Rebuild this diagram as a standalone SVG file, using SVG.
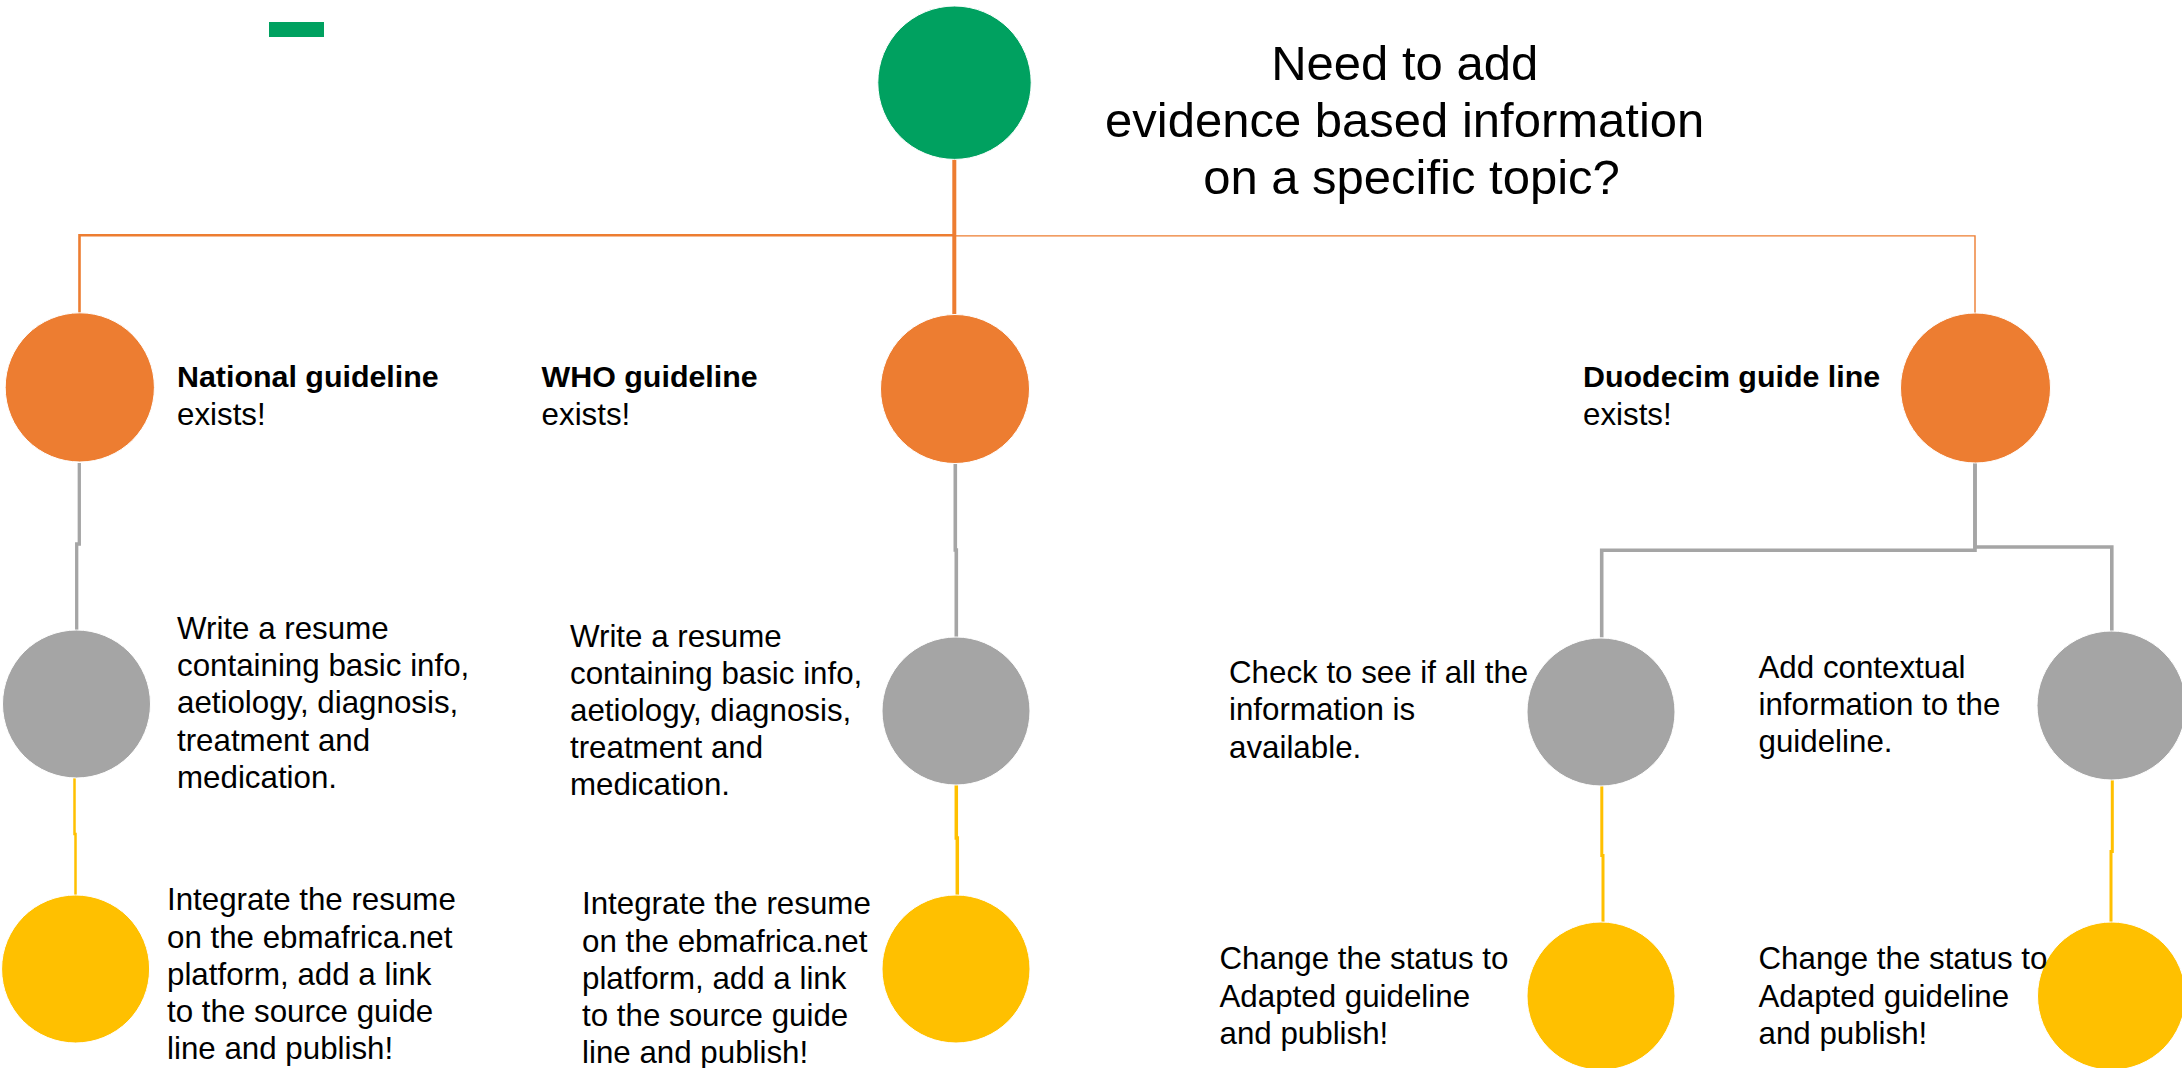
<svg xmlns="http://www.w3.org/2000/svg" width="2182" height="1068" viewBox="0 0 2182 1068">
  <style>
    text { font-family: "Liberation Sans", Arial, sans-serif; fill: #000000; }
    .title { font-size: 49px; text-anchor: middle; }
    .body { font-size: 31.3px; }
    .head { font-size: 30.4px; font-weight: bold; }
    .green { fill: #00A160; }
    .orange { fill: #ED7D31; }
    .gray { fill: #A5A5A5; }
    .yellow { fill: #FFC000; }
    .node { stroke: #FFFFFF; stroke-width: 1; }
    .c-orange { fill: none; stroke: #ED7D31; }
    .c-gray { fill: none; stroke: #A5A5A5; }
    .c-yellow { fill: none; stroke: #FFC000; }
  </style>

  <rect width="2182" height="1068" fill="#FFFFFF"/>

  <!-- small accent bar, top left -->
  <rect id="accent" x="269" y="22" width="55" height="15" class="green"/>

  <!-- connectors -->
  <g id="connectors">
    <!-- orange: root to first level -->
    <path class="c-orange" stroke-width="2.6" d="M79.5 313 V235.3 H954.3"/>
    <path class="c-orange" stroke-width="4" d="M954.3 158 V316"/>
    <path class="c-orange" stroke-width="1.4" d="M954.3 235.9 H1975 V313"/>
    <!-- gray: first level to second level -->
    <path class="c-gray" stroke-width="3.3" d="M79.3 463 V544 H76.7 V630"/>
    <path class="c-gray" stroke-width="3.6" d="M955.3 464 V550 H956.3 V637"/>
    <path class="c-gray" stroke-width="3.6" d="M1975 463 V550.3 H1601.7 V637.5"/>
    <path class="c-gray" stroke-width="3.6" d="M1975 463 V547 H2111.8 V631"/>
    <!-- yellow: second level to third level -->
    <path class="c-yellow" stroke-width="2.5" d="M74.5 778 V834 H75.5 V895"/>
    <path class="c-yellow" stroke-width="3.5" d="M956.3 785 V838 H957.3 V895"/>
    <path class="c-yellow" stroke-width="3" d="M1601.8 786 V855.5 H1603 V922"/>
    <path class="c-yellow" stroke-width="3" d="M2112.3 780 V851.6 H2111 V922"/>
  </g>

  <!-- root question -->
  <g id="root">
    <circle class="green node" cx="954.5" cy="82.7" r="76.7"/>
    <text class="title">
      <tspan x="1411.5" y="80">Need to add</tspan>
      <tspan x="1411.5" y="137">evidence based information</tspan>
      <tspan x="1411.5" y="194">on a specific topic?</tspan>
    </text>
  </g>

  <!-- first level -->
  <g id="national">
    <circle class="orange node" cx="79.8" cy="387.4" r="74.6"/>
    <text><tspan class="head" x="177" y="387">National guideline</tspan><tspan class="body" x="177" y="424.5">exists!</tspan></text>
  </g>
  <g id="who">
    <circle class="orange node" cx="955" cy="389" r="74.5"/>
    <text><tspan class="head" x="541.6" y="387">WHO guideline</tspan><tspan class="body" x="541.6" y="424.5">exists!</tspan></text>
  </g>
  <g id="duodecim">
    <circle class="orange node" cx="1975.5" cy="388" r="75"/>
    <text><tspan class="head" x="1583" y="387">Duodecim guide line</tspan><tspan class="body" x="1583" y="424.5">exists!</tspan></text>
  </g>

  <!-- second level -->
  <g id="national-resume">
    <circle class="gray node" cx="76.5" cy="704" r="74"/>
    <text class="body">
      <tspan x="177" y="639">Write a resume</tspan>
      <tspan x="177" y="676">containing basic info,</tspan>
      <tspan x="177" y="713">aetiology, diagnosis,</tspan>
      <tspan x="177" y="750.5">treatment and</tspan>
      <tspan x="177" y="787.5">medication.</tspan>
    </text>
  </g>
  <g id="who-resume">
    <circle class="gray node" cx="956" cy="711" r="74"/>
    <text class="body">
      <tspan x="570" y="647">Write a resume</tspan>
      <tspan x="570" y="684">containing basic info,</tspan>
      <tspan x="570" y="721">aetiology, diagnosis,</tspan>
      <tspan x="570" y="758">treatment and</tspan>
      <tspan x="570" y="795">medication.</tspan>
    </text>
  </g>
  <g id="duodecim-check">
    <circle class="gray node" cx="1601" cy="712" r="74"/>
    <text class="body">
      <tspan x="1229" y="683">Check to see if all the</tspan>
      <tspan x="1229" y="720">information is</tspan>
      <tspan x="1229" y="757.5">available.</tspan>
    </text>
  </g>
  <g id="duodecim-context">
    <circle class="gray node" cx="2111.5" cy="705.5" r="74.5"/>
    <text class="body">
      <tspan x="1758.5" y="678">Add contextual</tspan>
      <tspan x="1758.5" y="715">information to the</tspan>
      <tspan x="1758.5" y="752">guideline.</tspan>
    </text>
  </g>

  <!-- third level -->
  <g id="national-publish">
    <circle class="yellow node" cx="75.6" cy="969" r="74"/>
    <text class="body">
      <tspan x="167" y="910">Integrate the resume</tspan>
      <tspan x="167" y="947.5">on the ebmafrica.net</tspan>
      <tspan x="167" y="984.5">platform, add a link</tspan>
      <tspan x="167" y="1021.5">to the source guide</tspan>
      <tspan x="167" y="1058.5">line and publish!</tspan>
    </text>
  </g>
  <g id="who-publish">
    <circle class="yellow node" cx="956" cy="969" r="74"/>
    <text class="body">
      <tspan x="582" y="914">Integrate the resume</tspan>
      <tspan x="582" y="951.5">on the ebmafrica.net</tspan>
      <tspan x="582" y="988.5">platform, add a link</tspan>
      <tspan x="582" y="1025.5">to the source guide</tspan>
      <tspan x="582" y="1063">line and publish!</tspan>
    </text>
  </g>
  <g id="duodecim-check-publish">
    <circle class="yellow node" cx="1601" cy="996" r="74"/>
    <text class="body">
      <tspan x="1219.5" y="969">Change the status to</tspan>
      <tspan x="1219.5" y="1006.5">Adapted guideline</tspan>
      <tspan x="1219.5" y="1043.5">and publish!</tspan>
    </text>
  </g>
  <g id="duodecim-context-publish">
    <circle class="yellow node" cx="2111.5" cy="996" r="74"/>
    <text class="body">
      <tspan x="1758.5" y="969">Change the status to</tspan>
      <tspan x="1758.5" y="1006.5">Adapted guideline</tspan>
      <tspan x="1758.5" y="1043.5">and publish!</tspan>
    </text>
  </g>
</svg>
